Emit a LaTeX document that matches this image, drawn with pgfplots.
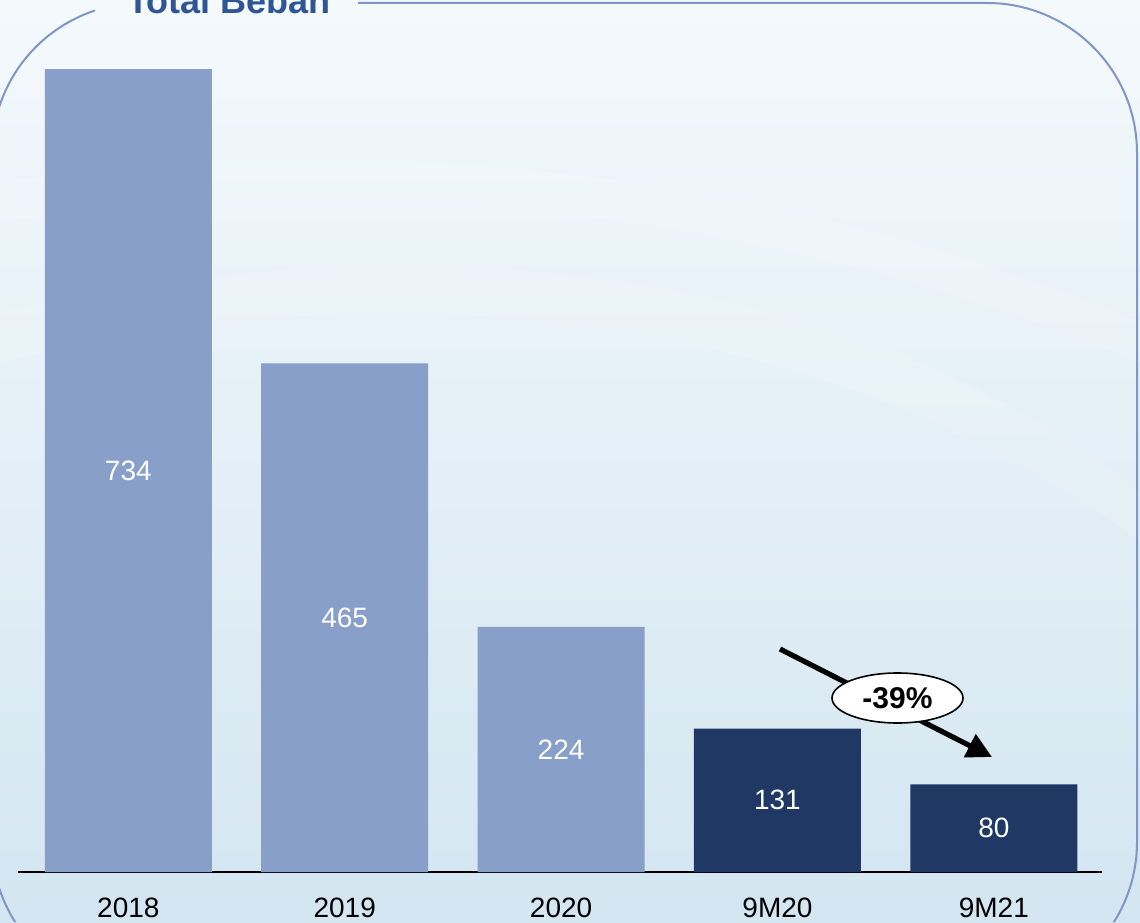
\documentclass[border=0pt]{standalone}
\usepackage{pgfplots}
\pgfplotsset{compat=1.18}
\usepackage{pgfplotstable}
\usepackage{fontspec}
\setmainfont{Liberation Sans}
\usetikzlibrary{arrows.meta}
\definecolor{lightbar}{HTML}{889FCA}
\definecolor{darkbar}{HTML}{203864}
\definecolor{framec}{HTML}{7F96C8}
\definecolor{titlec}{HTML}{2F5597}
\definecolor{bgtop}{HTML}{F4F9FC}
\definecolor{bgbot}{HTML}{D3E6F1}
\pgfplotstableread{
x y
0 734
1 465
2 224
}\histdata
\pgfplotstableread{
x y
3 131
4 80
}\ninedata
\begin{document}
\begin{tikzpicture}[x=0.5pt,y=0.5pt]
\useasboundingbox (0,0) rectangle (1140,922);
\clip (0,0) rectangle (1140,922);
\shade[top color=bgtop, bottom color=bgbot] (0,0) rectangle (1140,922);
% faint white swooshes
\fill[white, opacity=0.15] (0,700) .. controls (400,760) and (800,700) .. (1140,560) -- (1140,600) .. controls (800,740) and (400,800) .. (0,740) -- cycle;
\fill[white, opacity=0.1] (0,560) .. controls (500,680) and (900,560) .. (1140,380) -- (1140,430) .. controls (900,620) and (500,720) .. (0,610) -- cycle;
% frame with gap for the title
\begin{scope}
\clip (0,0) rectangle (1140,922) (358,890) rectangle (95,940);
\draw[framec, line width=1pt, rounded corners=75pt] (-8,-70) rectangle (1137,919);
\end{scope}
\node[anchor=base west, text=titlec, font=\fontsize{18}{20}\selectfont\bfseries, inner sep=0pt] at (127,908) {Total Beban};
\begin{axis}[
  at={(9pt,25pt)}, anchor=south west,
  scale only axis, width=542pt, height=415.7pt,
  xmin=-0.51, xmax=4.5, ymin=0, ymax=760,
  axis x line*=bottom, axis y line=none,
  x axis line style={black, line width=1pt},
  xtick={0,1,2,3,4}, xticklabels={2018,2019,2020,9M20,9M21},
  major tick length=0pt,
  xticklabel style={anchor=center, yshift=-18pt, font=\fontsize{14}{16}\selectfont},
  clip=false,
]
\addplot[ybar, bar width=83.5pt, bar shift=0pt, fill=lightbar, draw=none] table[x=x,y=y]{\histdata};
\addplot[ybar, bar width=83.5pt, bar shift=0pt, fill=darkbar, draw=none] table[x=x,y=y]{\ninedata};
\addplot[draw=none, mark=none, point meta=explicit symbolic, nodes near coords,
  every node near coord/.style={anchor=center, text=white, font=\fontsize{14}{16}\selectfont}]
  table[x=x, y expr=\thisrow{y}/2, meta=y]{\histdata};
\addplot[draw=none, mark=none, point meta=explicit symbolic, nodes near coords,
  every node near coord/.style={anchor=center, text=white, font=\fontsize{14}{16}\selectfont}]
  table[x=x, y expr=\thisrow{y}/2, meta=y]{\ninedata};
\end{axis}
% growth annotation
\draw[line width=2.6pt, -{Triangle[length=12.5pt, width=12.5pt]}] (780,273) -- (992,165);
\draw[fill=white, line width=0.8pt] (897.5,224) ellipse [x radius=32.75pt, y radius=12.5pt];
\node[font=\fontsize{15}{17}\selectfont\bfseries] at (897.5,224) {-39\%};
\end{tikzpicture}
\end{document}
